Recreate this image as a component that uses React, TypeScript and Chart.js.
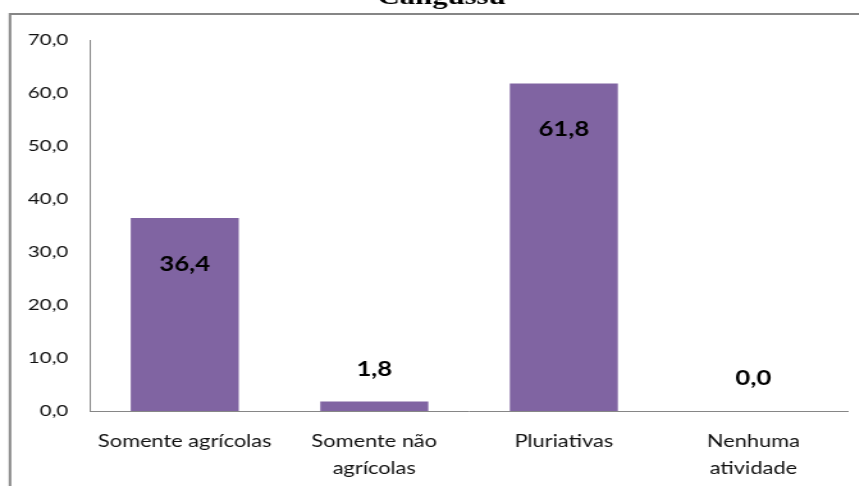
import React, { useEffect, useRef } from "react";
import { Chart, registerables } from "chart.js";

Chart.register(...registerables);

const title = "Cangussu";
const categories: string[][] = [
  ["Somente agrícolas"],
  ["Somente não", "agrícolas"],
  ["Pluriativas"],
  ["Nenhuma", "atividade"],
];
const values: number[] = [36.4, 1.8, 61.8, 0.0];
const yTicks: number[] = [0, 10, 20, 30, 40, 50, 60, 70];

const STRETCH = 1.28;
const W = 859 / STRETCH;
const H = 486;
const FONT = "Lato, 'Open Sans', sans-serif";
const fmt = (v: number) => v.toFixed(1).replace(".", ",");

const framePlugin = {
  id: "frame",
  beforeDraw(chart: any) {
    const ctx = chart.ctx;
    ctx.save();
    ctx.fillStyle = "#ffffff";
    ctx.fillRect(0, 0, chart.width, chart.height);
    ctx.strokeStyle = "#868686";
    ctx.lineWidth = 2;
    ctx.strokeRect(7.8, 14, chart.width + 20, chart.height + 20);
    ctx.fillStyle = "#000000";
    ctx.font = "bold 24px 'Liberation Serif', 'Times New Roman', serif";
    ctx.textAlign = "center";
    ctx.textBaseline = "alphabetic";
    ctx.fillText(title, 345, 4);
    ctx.restore();
  },
  afterDatasetsDraw(chart: any) {
    const ctx = chart.ctx;
    const meta = chart.getDatasetMeta(0);
    ctx.save();
    ctx.fillStyle = "#000000";
    ctx.font = `bold 20px ${FONT}`;
    ctx.textAlign = "center";
    ctx.textBaseline = "middle";
    meta.data.forEach((bar: any, i: number) => {
      const v = values[i];
      const y = v > 10 ? bar.y + 46 : bar.y - 32;
      ctx.fillText(fmt(v), bar.x, y);
    });
    ctx.restore();
  },
};

export default function App() {
  const ref = useRef<HTMLCanvasElement | null>(null);
  useEffect(() => {
    if (!ref.current) return;
    const chart = new Chart(ref.current, {
      type: "bar",
      data: {
        labels: categories,
        datasets: [
          {
            data: values,
            backgroundColor: "#8064A2",
            borderWidth: 0,
            categoryPercentage: 1,
            barPercentage: 0.57,
          },
        ],
      },
      options: {
        animation: false,
        responsive: true,
        maintainAspectRatio: false,
        layout: { padding: { top: 40, right: 8.5, bottom: 0, left: 0 } },
        plugins: {
          legend: { display: false },
          title: { display: false },
          tooltip: { enabled: false },
        },
        scales: {
          x: {
            grid: { display: false, drawTicks: false },
            border: { display: true, color: "#868686", width: 1 },
            ticks: {
              color: "#111111",
              font: { family: FONT, size: 17, lineHeight: 1.6 },
              padding: 17,
              maxRotation: 0,
              autoSkip: false,
            },
            afterFit: (s: any) => {
              s.height = 75;
            },
          },
          y: {
            min: 0,
            max: 70,
            afterBuildTicks: (s: any) => {
              s.ticks = yTicks.map((v) => ({ value: v }));
            },
            grid: { display: false, drawTicks: false },
            border: { display: true, color: "#868686", width: 1 },
            ticks: {
              color: "#111111",
              font: { family: FONT, size: 16 },
              padding: 17,
              callback: (v: any) => fmt(Number(v)),
            },
            afterFit: (s: any) => {
              s.width = 70.3;
            },
          },
        },
      },
      plugins: [framePlugin],
    });
    return () => chart.destroy();
  }, []);

  return (
    <div style={{ position: "fixed", left: 0, top: 0, width: 859, height: 486, overflow: "hidden", background: "#fff" }}>
      <div
        style={{
          width: W,
          height: H,
          transform: `scaleX(${STRETCH})`,
          transformOrigin: "0 0",
          position: "relative",
        }}
      >
        <canvas ref={ref} />
      </div>
    </div>
  );
}
